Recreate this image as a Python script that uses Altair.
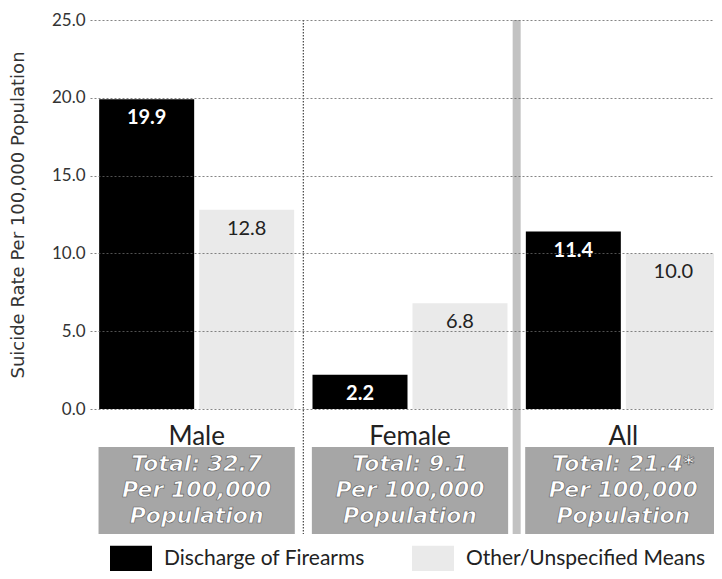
import altair as alt
import pandas as pd

groups = ["Male", "Female", "All"]
series = ["Discharge of Firearms", "Other/Unspecified Means"]
firearms = [19.9, 2.2, 11.4]
other = [12.8, 6.8, 10.0]
totals = ["Total: 32.7", "Total: 9.1", "Total: 21.4*"]
box_lines = ["Per 100,000", "Population"]
y_ticks = [0, 5, 10, 15, 20, 25]

rows = []
for i, g in enumerate(groups):
    rows.append({"group": g, "series": series[0], "value": firearms[i]})
    rows.append({"group": g, "series": series[1], "value": other[i]})
df = pd.DataFrame(rows)
gdf = pd.DataFrame({"group": groups, "box": ["\n".join([t] + box_lines) for t in totals]})

xscale = alt.Scale(domain=groups, range=[0, 640], paddingInner=0, paddingOuter=0)
xenc = alt.X("group:N", sort=groups, axis=None, scale=xscale)
xedge = alt.X("group:N", sort=groups, axis=None, scale=xscale, bandPosition=1)
xoff = alt.XOffset("series:N", sort=series,
                   scale=alt.Scale(domain=series, paddingInner=0.05, paddingOuter=0.0917))
yscale = alt.Scale(domain=[0, 25], nice=False, zero=True)

yaxis = alt.Axis(
    values=y_ticks, format=".1f", title="Suicide Rate Per 100,000 Population",
    titleFont="DejaVu Sans", titleFontSize=18, titleFontWeight="normal",
    titleColor="#333", titleX=-72, titleY=194.5, titleAngle=270,
    titleAlign="center", titleBaseline="middle",
    labelFont="Lato", labelFontSize=17, labelColor="#333", labelPadding=5,
    ticks=False, domain=False, grid=True, gridColor="#666",
    gridDash=[2, 2], gridWidth=0.8, zindex=1,
)

bars = alt.Chart(df).mark_bar().encode(
    x=xenc, xOffset=xoff,
    y=alt.Y("value:Q", scale=yscale, axis=yaxis),
    color=alt.Color(
        "series:N", sort=series,
        scale=alt.Scale(domain=series, range=["#000000", "#eaeaea"]),
        legend=alt.Legend(
            title=None, orient="none", legendX=20, legendY=518,
            direction="horizontal",
            symbolType="M-1,-0.64L1,-0.64L1,0.64L-1,0.64Z", symbolSize=1764,
            symbolStrokeWidth=0, symbolOpacity=1,
            labelFont="Lato", labelFontSize=21, labelColor="#222",
            labelOffset=12, columnPadding=47, labelLimit=400,
        ),
    ),
)

lab_fire = alt.Chart(df).transform_filter(alt.datum.series == series[0]).mark_text(
    dy=19, color="white", font="Lato", fontSize=20, fontWeight="bold", baseline="middle"
).encode(x=xenc, xOffset=xoff, y=alt.Y("value:Q", scale=yscale),
         text=alt.Text("value:Q", format=".1f"))

lab_other = alt.Chart(df).transform_filter(alt.datum.series == series[1]).mark_text(
    dy=19, color="#222", font="Lato", fontSize=20, baseline="middle"
).encode(x=xenc, xOffset=xoff, y=alt.Y("value:Q", scale=yscale),
         text=alt.Text("value:Q", format=".1f"))

sep1 = alt.Chart(gdf).transform_filter(alt.datum.group == groups[0]).mark_rule(
    color="#444", strokeWidth=1.2, strokeDash=[1.5, 1.5]
).encode(x=xedge, y=alt.value(0), y2=alt.value(514))

sep2 = alt.Chart(gdf).transform_filter(alt.datum.group == groups[1]).mark_rule(
    color="#c2c2c2", strokeWidth=8
).encode(x=xedge, y=alt.value(0), y2=alt.value(514))

boxes = alt.Chart(gdf).mark_bar(color="#a6a6a6", width={"band": 0.92}).encode(
    x=xenc, y=alt.value(427), y2=alt.value(514)
)

box_text = alt.Chart(gdf).mark_text(
    font="DejaVu Sans", fontStyle="italic", fontWeight="bold", fontSize=22,
    color="white", stroke="#666", strokeWidth=0.7,
    lineBreak="\n", lineHeight=26, baseline="middle"
).encode(x=xenc, y=alt.value(444), text="box:N")

cats = alt.Chart(gdf).mark_text(
    font="Lato", fontSize=26, color="#222", baseline="middle"
).encode(x=xenc, y=alt.value(417), text="group:N")

chart = alt.layer(bars, lab_fire, lab_other, sep1, sep2, boxes, box_text, cats).properties(
    width=624, height=389,
    padding={"left": 82, "top": 12, "right": 0, "bottom": 162},
    autosize=alt.AutoSizeParams(type="none"),
    background="white",
).configure_view(stroke=None)

chart.save("out.html", embed_options={"renderer": "svg", "actions": False})
